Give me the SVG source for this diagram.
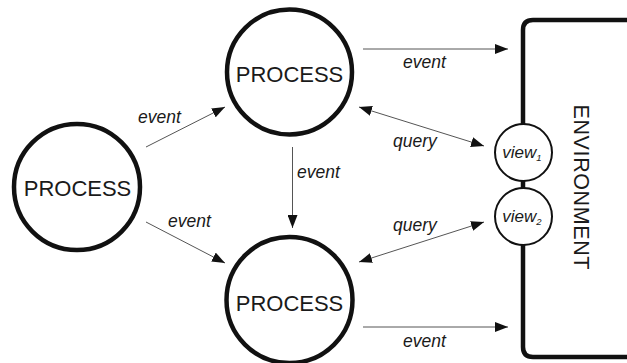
<svg xmlns="http://www.w3.org/2000/svg" width="627" height="363" viewBox="0 0 627 363">
  <style>
    .proc { fill: #ffffff; stroke: #111111; stroke-width: 4.5; }
    .ptext { font-family: "Liberation Sans", Arial, sans-serif; font-size: 22px; fill: #1a1a1a; text-anchor: middle; }
    .label { font-family: "Liberation Sans", Arial, sans-serif; font-size: 17.5px; font-style: italic; fill: #1a1a1a; }
    .edge { stroke: #555555; stroke-width: 1; fill: none; }
    .env { fill: #ffffff; stroke: #111111; stroke-width: 4.5; }
    .view { fill: #ffffff; stroke: #111111; stroke-width: 2; }
    .vtext { font-family: "Liberation Sans", Arial, sans-serif; font-size: 17px; font-style: italic; fill: #1a1a1a; text-anchor: middle; }
    .sub { font-size: 9.5px; }
  </style>
  <defs>
    <marker id="arrow" viewBox="0 0 13 10" refX="13" refY="5" markerWidth="13" markerHeight="10" markerUnits="userSpaceOnUse" orient="auto-start-reverse">
      <path d="M0,0 L13,5 L0,10 z" fill="#111111"/>
    </marker>
  </defs>

  <!-- environment box, open on the right -->
  <g id="environment">
    <path class="env" d="M640,20 L533,20 Q523,20 523,30 L523,347 Q523,357 533,357 L640,357"/>
    <text transform="translate(574,187) rotate(90)" font-family="'Liberation Sans', Arial, sans-serif" font-size="21.5" fill="#1a1a1a" text-anchor="middle" textLength="165">ENVIRONMENT</text>
  </g>

  <!-- views on the environment boundary -->
  <g id="view1">
    <circle class="view" cx="523.5" cy="152.5" r="28.5"/>
    <text class="vtext" x="522" y="158">view<tspan class="sub" dy="3">1</tspan></text>
  </g>
  <g id="view2">
    <circle class="view" cx="523.5" cy="216.5" r="28.5"/>
    <text class="vtext" x="522" y="222">view<tspan class="sub" dy="3">2</tspan></text>
  </g>

  <!-- processes -->
  <g id="process-left">
    <circle class="proc" cx="77" cy="187" r="63"/>
    <text class="ptext" x="77.5" y="196">PROCESS</text>
  </g>
  <g id="process-top">
    <circle class="proc" cx="289.5" cy="72" r="62.5"/>
    <text class="ptext" x="289.5" y="82">PROCESS</text>
  </g>
  <g id="process-bottom">
    <circle class="proc" cx="289.5" cy="300" r="63"/>
    <text class="ptext" x="289.5" y="311">PROCESS</text>
  </g>

  <!-- connectors -->
  <g id="connectors">
    <line class="edge" x1="146" y1="147" x2="225" y2="107" marker-end="url(#arrow)"/>
    <line class="edge" x1="146" y1="222" x2="225" y2="263" marker-end="url(#arrow)"/>
    <line class="edge" x1="292.5" y1="147" x2="292.5" y2="228" marker-end="url(#arrow)"/>
    <line class="edge" x1="363" y1="49" x2="508" y2="49" marker-end="url(#arrow)"/>
    <line class="edge" x1="363" y1="327" x2="508" y2="327" marker-end="url(#arrow)"/>
    <line class="edge" x1="359" y1="107" x2="484" y2="146" marker-start="url(#arrow)" marker-end="url(#arrow)"/>
    <line class="edge" x1="484" y1="222" x2="359" y2="262" marker-start="url(#arrow)" marker-end="url(#arrow)"/>

    <text class="label" x="138" y="123">event</text>
    <text class="label" x="168" y="227">event</text>
    <text class="label" x="297" y="178">event</text>
    <text class="label" x="403" y="68">event</text>
    <text class="label" x="403" y="347">event</text>
    <text class="label" x="393" y="147">query</text>
    <text class="label" x="393" y="231">query</text>
  </g>
</svg>
